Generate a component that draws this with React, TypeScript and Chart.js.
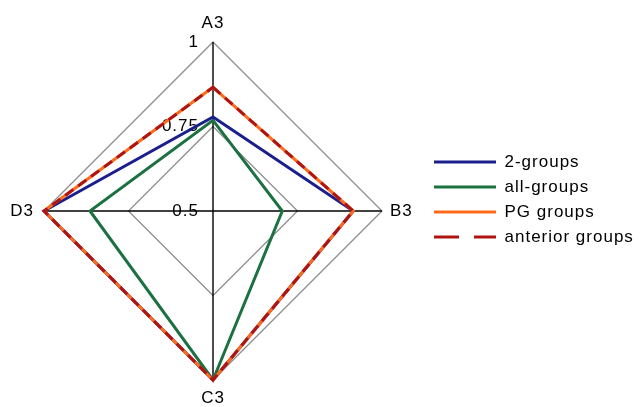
import React, { useEffect, useRef } from "react";
import { Chart, registerables } from "chart.js";

Chart.register(...registerables);

const categories = ["A3", "B3", "C3", "D3"];
const seriesNames = ["2-groups", "all-groups", "PG groups", "anterior groups"];
const twoGroups = [0.778, 0.915, 1, 1];
const allGroups = [0.768, 0.705, 1, 0.864];
const pgGroups = [0.866, 0.915, 1, 1];
const anteriorGroups = [0.866, 0.915, 1, 1];
const tickValues = [0.5, 0.75, 1];
const tickLabels = ["0.5", "0.75", "1"];

const colors = ["#1a1f8c", "#1b7140", "#ff6b1a", "#ae1414"];
const FONT = "'Liberation Sans', Arial, sans-serif";

const spacingPlugin = {
  id: "letterSpacing",
  beforeUpdate(chart: any) {
    chart.ctx.letterSpacing = "1px";
  },
  beforeLayout(chart: any) {
    chart.ctx.letterSpacing = "1px";
  },
  beforeDraw(chart: any) {
    chart.ctx.letterSpacing = "1px";
  },
};

const tickLabelPlugin = {
  id: "tickLabels",
  beforeDatasetsDraw(chart: any) {
    const scale = chart.scales.r;
    const ctx = chart.ctx;
    ctx.save();
    ctx.letterSpacing = "1px";
    ctx.font = `17px ${FONT}`;
    ctx.fillStyle = "#000";
    ctx.textAlign = "right";
    ctx.textBaseline = "middle";
    scale.ticks.forEach((t: any) => {
      const d = scale.getDistanceFromCenterForValue(t.value);
      ctx.fillText(String(t.label), scale.xCenter - 14, scale.yCenter - d);
    });
    ctx.restore();
  },
};

const pointLabelPlugin = {
  id: "pointLabelsCustom",
  afterDraw(chart: any) {
    const scale = chart.scales.r;
    const ctx = chart.ctx;
    const pads = [14, 8, 18, 10];
    const aligns: CanvasTextAlign[] = ["center", "left", "center", "right"];
    const baselines: CanvasTextBaseline[] = ["alphabetic", "middle", "middle", "middle"];
    ctx.save();
    ctx.letterSpacing = "1px";
    ctx.font = `17px ${FONT}`;
    ctx.fillStyle = "#000";
    chart.data.labels.forEach((lab: string, i: number) => {
      const p = scale.getPointPosition(i, scale.drawingArea + pads[i]);
      ctx.textAlign = aligns[i];
      ctx.textBaseline = baselines[i];
      ctx.fillText(lab, p.x, p.y);
    });
    ctx.restore();
  },
};

export default function App() {
  const ref = useRef<HTMLCanvasElement | null>(null);
  useEffect(() => {
    if (!ref.current) return;
    const seriesData = [twoGroups, allGroups, pgGroups, anteriorGroups];
    const orders = [2, 3, 1, 0];
    const legendDash = [[], [], [], [25, 15]];
    const chart = new Chart(ref.current, {
      type: "radar",
      data: {
        labels: categories,
        datasets: seriesData.map((d, i) => ({
          label: seriesNames[i],
          data: d,
          borderColor: colors[i],
          backgroundColor: colors[i],
          borderWidth: 3,
          borderDash: i === 3 ? [10, 6] : [],
          pointRadius: 0,
          pointHoverRadius: 0,
          fill: false,
          tension: 0,
          order: orders[i],
        })),
      },
      options: {
        responsive: false,
        animation: false,
        events: [],
        layout: { padding: { left: 0, right: 0, top: 42, bottom: 27 } },
        font: { family: FONT, size: 17 },
        color: "#000",
        scales: {
          r: {
            min: tickValues[0],
            max: tickValues[tickValues.length - 1],
            startAngle: 0,
            afterBuildTicks: (s: any) => {
              s.ticks = tickValues.map((v) => ({ value: v }));
            },
            ticks: {
              display: false,
              callback: (v: number) => tickLabels[tickValues.indexOf(v)] ?? String(v),
            },
            grid: { color: "#8e8e8e", lineWidth: 1.3, circular: false },
            angleLines: { color: "#000", lineWidth: 1.4 },
            pointLabels: { display: false },
          },
        },
        plugins: {
          tooltip: { enabled: false },
          legend: {
            position: "right",
            align: "start",
            maxWidth: 216,
            title: {
              display: true,
              text: "",
              font: { size: 1, lineHeight: 1 },
              padding: { top: 0, bottom: 102.5 },
            },
            labels: {
              usePointStyle: true,
              pointStyleWidth: 62,
              boxWidth: 62,
              padding: 8,
              color: "#000",
              font: { family: FONT, size: 17 },
              sort: (a: any, b: any) => a.datasetIndex - b.datasetIndex,
              generateLabels: (c: any) =>
                c.data.datasets.map((ds: any, i: number) => ({
                  text: ds.label,
                  fillStyle: ds.borderColor,
                  strokeStyle: ds.borderColor,
                  lineWidth: 3,
                  lineDash: legendDash[i],
                  pointStyle: "line",
                  hidden: false,
                  datasetIndex: i,
                  fontColor: "#000",
                })),
            },
          },
        },
      },
      plugins: [spacingPlugin, tickLabelPlugin, pointLabelPlugin],
    } as any);
    return () => chart.destroy();
  }, []);
  return (
    <div style={{ position: "absolute", left: 0, top: 0, width: 642, height: 407, background: "#fff" }}>
      <canvas ref={ref} width={642} height={407} />
    </div>
  );
}
